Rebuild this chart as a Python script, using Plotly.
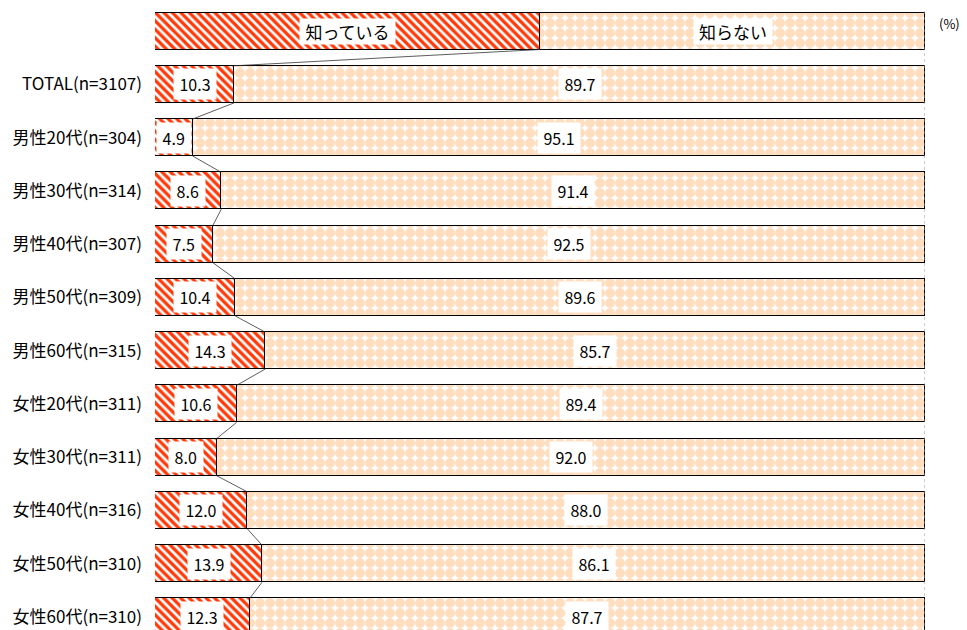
import plotly.graph_objects as go

categories = ["TOTAL(n=3107)", "男性20代(n=304)", "男性30代(n=314)", "男性40代(n=307)",
              "男性50代(n=309)", "男性60代(n=315)", "女性20代(n=311)", "女性30代(n=311)",
              "女性40代(n=316)", "女性50代(n=310)", "女性60代(n=310)"]
know = [10.3, 4.9, 8.6, 7.5, 10.4, 14.3, 10.6, 8.0, 12.0, 13.9, 12.3]
dont_know = [89.7, 95.1, 91.4, 92.5, 89.6, 85.7, 89.4, 92.0, 88.0, 86.1, 87.7]
legend_labels = ["知っている", "知らない"]
legend_values = [50, 50]

FONT = "Noto Sans CJK JP"
RED = "#FF3A0A"
ORANGE = "#FFBE82"
BW = 0.695

ys = list(range(1, len(categories) + 1))
all_y = [0] + ys
all_know = [legend_values[0]] + know
all_dont = [legend_values[1]] + dont_know

fig = go.Figure()
fig.add_trace(go.Bar(
    y=all_y, x=all_know, orientation="h", width=BW,
    marker=dict(color=RED, line=dict(color="black", width=1.5),
                pattern=dict(shape="\\", fillmode="overlay", fgcolor="white", fgopacity=1,
                             size=6, solidity=0.45)),
    hoverinfo="skip", showlegend=False))
fig.add_trace(go.Bar(
    y=all_y, x=all_dont, orientation="h", width=BW,
    marker=dict(color="white", line=dict(color="black", width=1.5),
                pattern=dict(shape=".", fgcolor=ORANGE, bgcolor="white", size=10, solidity=0.78)),
    hoverinfo="skip", showlegend=False))

# connector lines between boundaries
lx, ly = [], []
for i in range(len(all_y) - 1):
    lx += [all_know[i], all_know[i + 1], None]
    ly += [all_y[i] + BW / 2, all_y[i + 1] - BW / 2, None]
fig.add_trace(go.Scatter(x=lx, y=ly, mode="lines", line=dict(color="#333333", width=0.8),
                         hoverinfo="skip", showlegend=False))

# right dotted line at 100
fig.add_trace(go.Scatter(x=[100, 100], y=[-0.6, 11.4], mode="lines",
                         line=dict(color="#999999", width=1, dash="dot"),
                         hoverinfo="skip", showlegend=False))

annotations = []
for lab, xv in zip(legend_labels, [legend_values[0] / 2, legend_values[0] + legend_values[1] / 2]):
    annotations.append(dict(x=xv, y=0, text=lab, showarrow=False, bgcolor="white",
                            width=17 * len(lab) + 10, height=25,
                            font=dict(family=FONT, size=17, color="black"), borderpad=0))
for y, k, d in zip(ys, know, dont_know):
    for xv, val in ((k / 2, k), (k + d / 2, d)):
        t = f"{val:.1f}"
        annotations.append(dict(x=xv, y=y, text=t, showarrow=False, bgcolor="white",
                                width=8.5 * len(t) + 8, height=30,
                                font=dict(family=FONT, size=16, color="black"), borderpad=0))
annotations.append(dict(xref="paper", yref="paper", x=1.0, y=1.0, xanchor="left", yanchor="top",
                        xshift=12, yshift=-4, text="(%)", showarrow=False,
                        font=dict(family=FONT, size=13, color="black")))

fig.update_layout(
    width=959, height=622,
    margin=dict(l=147, r=42, t=0, b=0),
    barmode="stack", bargap=0,
    plot_bgcolor="white", paper_bgcolor="white",
    annotations=annotations,
    xaxis=dict(range=[0, 100], showgrid=False, zeroline=False, showticklabels=False,
               showline=False, fixedrange=True),
    yaxis=dict(range=[11.245, -0.432], tickmode="array", tickvals=ys, ticktext=categories,
               showgrid=False, zeroline=False, showline=False, ticks="",
               ticklabelstandoff=12,
               tickfont=dict(family=FONT, size=17, color="black")),
)

fig.write_html("out.html")
